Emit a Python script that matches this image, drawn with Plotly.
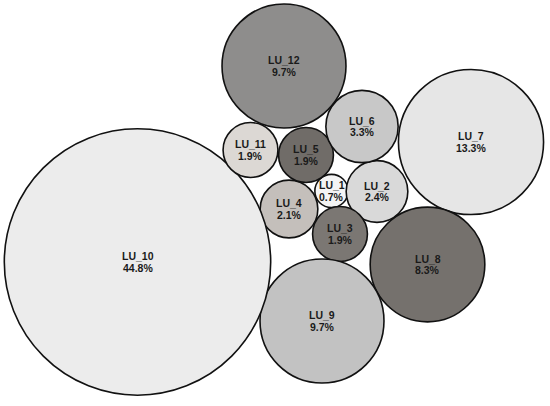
import numpy as np
import plotly.graph_objects as go

# land-use classes and their share (%)
labels = ["LU_1", "LU_2", "LU_3", "LU_4", "LU_5", "LU_6",
          "LU_7", "LU_8", "LU_9", "LU_10", "LU_11", "LU_12"]
shares = [0.7, 2.4, 1.9, 2.1, 1.9, 3.3, 13.3, 8.3, 9.7, 44.8, 1.9, 9.7]

# packed bubble centres (layout coordinates)
cx = [331.5, 377, 340, 289, 306, 362, 471, 427.5, 322, 137.5, 250.5, 284]
cy = [191, 191.5, 234, 209, 155, 126.5, 142, 264.5, 321, 262, 150, 66]

fills = ["#f4f4f4", "#d9d9d9", "#7b7773", "#c4bfbb", "#706c68", "#c8c8c8",
         "#e6e6e6", "#75716d", "#c2c2c2", "#ececec", "#dcd8d4", "#8e8d8c"]

W, H = 550, 406
k = 19.9  # radius per sqrt(percent)
font = dict(family="Liberation Sans, Arial", size=10.5, color="#1a1a1a")

fig = go.Figure()
fig.add_trace(go.Scatter(x=cx, y=cy, mode="markers", marker=dict(opacity=0),
                         hoverinfo="skip", showlegend=False))

for lab, v, x, y, c in zip(labels, shares, cx, cy, fills):
    r = k * np.sqrt(v)
    fig.add_shape(type="circle", xref="x", yref="y",
                  x0=x - r, x1=x + r, y0=y - r, y1=y + r,
                  fillcolor=c, line=dict(color="#111111", width=1.6),
                  layer="below")
    fig.add_annotation(x=x, y=y, yshift=-5.5, text=f"<b>{v}%</b>",
                       showarrow=False, font=font)
    fig.add_annotation(x=x, y=y, yshift=6, text=f"<b>{lab}</b>",
                       showarrow=False, font=font)

fig.update_xaxes(range=[0, W], visible=False)
fig.update_yaxes(range=[H, 0], visible=False)
fig.update_layout(width=W, height=H, margin=dict(l=0, r=0, t=0, b=0),
                  plot_bgcolor="white", paper_bgcolor="white")

fig.write_html("out.html", config={"displayModeBar": False},
               post_script="document.body.style.margin='0';")
